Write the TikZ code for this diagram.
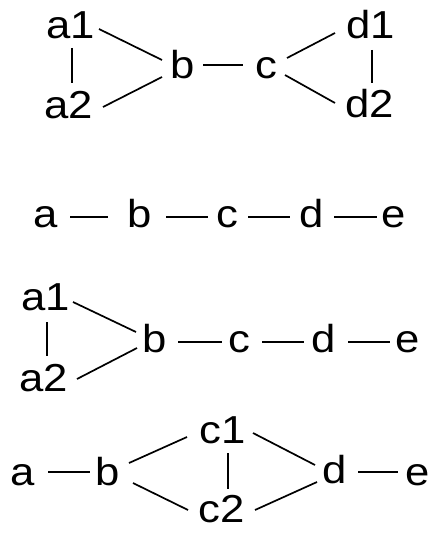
\documentclass[tikz,border=0pt]{standalone}
\usepackage{fontspec}
\setmainfont[FakeStretch=1.12]{Liberation Sans}
\usepackage{tikz}
\tikzset{
vertex/.style={inner sep=0pt, anchor=base, font=\fontsize{39}{39}\selectfont}, % every label of the graphs
link/.style={line width=1.7pt}, % the plain undirected edges
}

\begin{document}
\begin{tikzpicture}[x=1pt, y=-1pt]
            \useasboundingbox (0,0) rectangle (435,535);
            % first graph: two triangles joined by b--c
            \node[vertex] (a1) at (71,38) {a1};
            \node[vertex] (a2) at (69,118) {a2};
            \node[vertex] (b) at (183,78) {b};
            \node[vertex] (c) at (266,78) {c};
            \node[vertex] (d1) at (371,38) {d1};
            \node[vertex] (d2) at (370,117) {d2};
            \draw[link] ([shift={(1,10)}]a1.base) -- ([shift={(3,-35)}]a2.base);
            \draw[link] ([shift={(28,-9)}]a1.base) -- ([shift={(-21,-18)}]b.base);
            \draw[link] ([shift={(34,-11)}]a2.base) -- ([shift={(-21,-1)}]b.base);
            \draw[link] ([shift={(20,-13)}]b.base) -- ([shift={(-23,-13)}]c.base);
            \draw[link] ([shift={(21,-20)}]c.base) -- ([shift={(-36,-5)}]d1.base);
            \draw[link] ([shift={(19,-3)}]c.base) -- ([shift={(-35,-14)}]d2.base);
            \draw[link] ([shift={(1,12)}]d1.base) -- ([shift={(2,-34)}]d2.base);
            % second graph: a path
            \node[vertex] (pa) at (45.5,227) {a};
            \node[vertex] (pb) at (140,227) {b};
            \node[vertex] (pc) at (227.5,227) {c};
            \node[vertex] (pd) at (312,227) {d};
            \node[vertex] (pe) at (394,227) {e};
            \draw[link] ([shift={(24.5,-10)}]pa.base) -- ([shift={(-32,-10)}]pb.base);
            \draw[link] ([shift={(26,-10)}]pb.base) -- ([shift={(-19.5,-10)}]pc.base);
            \draw[link] ([shift={(20.5,-10)}]pc.base) -- ([shift={(-22,-10)}]pd.base);
            \draw[link] ([shift={(22,-10)}]pd.base) -- ([shift={(-17,-10)}]pe.base);
            % third graph: triangle with a tail
            \node[vertex] (ta1) at (46,310) {a1};
            \node[vertex] (ta2) at (44,391) {a2};
            \node[vertex] (tb) at (155,352) {b};
            \node[vertex] (tc) at (239.5,352) {c};
            \node[vertex] (td) at (323.5,352) {d};
            \node[vertex] (te) at (407.5,352) {e};
            \draw[link] ([shift={(1,12)}]ta1.base) -- ([shift={(3,-35)}]ta2.base);
            \draw[link] ([shift={(27,-8)}]ta1.base) -- ([shift={(-19,-20)}]tb.base);
            \draw[link] ([shift={(33,-12)}]ta2.base) -- ([shift={(-18,-4)}]tb.base);
            \draw[link] ([shift={(23,-10)}]tb.base) -- ([shift={(-17.5,-10)}]tc.base);
            \draw[link] ([shift={(22.5,-10)}]tc.base) -- ([shift={(-19.5,-10)}]td.base);
            \draw[link] ([shift={(24.5,-10)}]td.base) -- ([shift={(-17.5,-10)}]te.base);
            % fourth graph: a diamond between two tails
            \node[vertex] (ra) at (22.5,485) {a};
            \node[vertex] (rb) at (108,485) {b};
            \node[vertex] (rc1) at (223,443) {c1};
            \node[vertex] (rc2) at (222,522) {c2};
            \node[vertex] (rd) at (335,483) {d};
            \node[vertex] (re) at (417.5,485) {e};
            \draw[link] ([shift={(25.5,-13)}]ra.base) -- ([shift={(-18,-13)}]rb.base);
            \draw[link] ([shift={(21,-22)}]rb.base) -- ([shift={(-36,-6)}]rc1.base);
            \draw[link] ([shift={(25,-2)}]rb.base) -- ([shift={(-34,-12)}]rc2.base);
            \draw[link] ([shift={(5,10)}]rc1.base) -- ([shift={(6,-33)}]rc2.base);
            \draw[link] ([shift={(30,-10)}]rc1.base) -- ([shift={(-20,-18)}]rd.base);
            \draw[link] ([shift={(33,-12)}]rc2.base) -- ([shift={(-18,-1)}]rd.base);
            \draw[link] ([shift={(23,-11)}]rd.base) -- ([shift={(-19.5,-13)}]re.base);
\end{tikzpicture}
\end{document}
